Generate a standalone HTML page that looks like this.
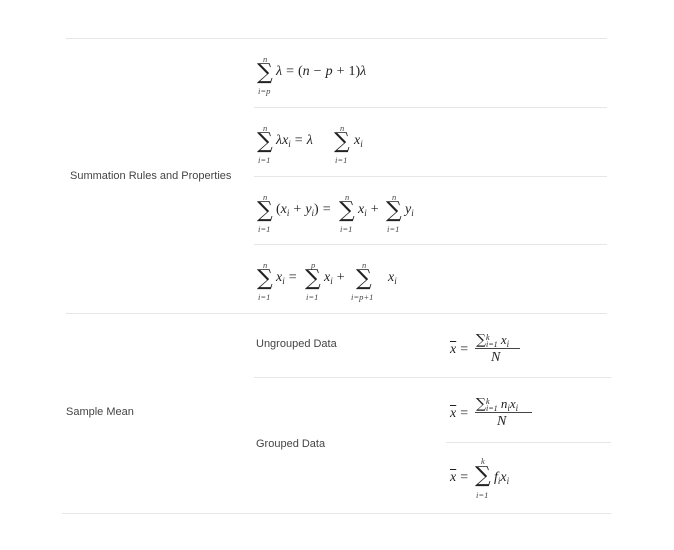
<!DOCTYPE html>
<html><head><meta charset="utf-8"><style>
body{margin:0;width:674px;height:550px;background:#fff;position:relative;overflow:hidden;font-family:"Liberation Sans",sans-serif;}
.l{position:absolute;height:1px;background:#e6e6e6;}
.lab{position:absolute;font-size:11px;color:#444;line-height:12px;white-space:nowrap;}
.m{position:absolute;font-family:"Liberation Serif","DejaVu Serif",serif;font-size:14px;color:#222;line-height:16px;white-space:nowrap;}
.i{font-style:italic;}
.s{position:absolute;font-family:"DejaVu Serif",serif;font-size:22px;color:#222;line-height:22px;}
.sm{position:absolute;font-family:"Liberation Serif",serif;font-size:8.5px;color:#444;line-height:8px;white-space:nowrap;font-style:italic;}
sub{font-size:9px;vertical-align:-3px;}
.ov{text-decoration:overline;}
.o{margin:0 4px;font-style:normal;}
</style></head><body>
<div class="l" style="left:66px;top:38px;width:541px;"></div>
<div class="l" style="left:254px;top:107px;width:353px;"></div>
<div class="l" style="left:254px;top:176px;width:353px;"></div>
<div class="l" style="left:254px;top:244px;width:353px;"></div>
<div class="l" style="left:66px;top:313px;width:541px;"></div>
<div class="l" style="left:254px;top:377px;width:357px;"></div>
<div class="l" style="left:446px;top:442px;width:165px;"></div>
<div class="l" style="left:62px;top:513px;width:549px;"></div>

<div class="lab" style="left:70px;top:170px;">Summation Rules and Properties</div>
<div class="lab" style="left:66px;top:406px;">Sample Mean</div>
<div class="lab" style="left:256px;top:338px;">Ungrouped Data</div>
<div class="lab" style="left:256px;top:438px;">Grouped Data</div>

<!-- Row 1 -->
<div>
<div class="sm" style="left:263px;top:55px;">n</div>
<div class="s" style="left:257px;top:62px;">∑</div>
<div class="sm" style="left:258px;top:87px;">i=p</div>
<div class="m" style="left:276px;top:64px;"><span class="i">λ</span><span class="o">=</span>(<span class="i">n</span><span class="o">−</span><span class="i">p</span><span class="o">+</span>1)<span class="i">λ</span></div>
</div>
<!-- Row 2 -->
<div>
<div class="sm" style="left:263px;top:124px;">n</div>
<div class="s" style="left:257px;top:131px;">∑</div>
<div class="sm" style="left:258px;top:156px;">i=1</div>
<div class="m" style="left:276px;top:133px;"><span class="i">λx<sub>i</sub></span><span class="o">=</span><span class="i">λ</span></div>
<div class="sm" style="left:340px;top:124px;">n</div>
<div class="s" style="left:334px;top:131px;">∑</div>
<div class="sm" style="left:335px;top:156px;">i=1</div>
<div class="m i" style="left:354px;top:133px;">x<sub>i</sub></div>
</div>
<!-- Row 3 -->
<div>
<div class="sm" style="left:263px;top:193px;">n</div>
<div class="s" style="left:257px;top:200px;">∑</div>
<div class="sm" style="left:258px;top:225px;">i=1</div>
<div class="m" style="left:276px;top:202px;">(<span class="i">x<sub>i</sub></span><span class="o">+</span><span class="i">y<sub>i</sub></span>)<span class="o">=</span></div>
<div class="sm" style="left:345px;top:193px;">n</div>
<div class="s" style="left:339px;top:200px;">∑</div>
<div class="sm" style="left:340px;top:225px;">i=1</div>
<div class="m" style="left:358px;top:202px;"><span class="i">x<sub>i</sub></span><span class="o">+</span></div>
<div class="sm" style="left:392px;top:193px;">n</div>
<div class="s" style="left:386px;top:200px;">∑</div>
<div class="sm" style="left:387px;top:225px;">i=1</div>
<div class="m i" style="left:405px;top:202px;">y<sub>i</sub></div>
</div>
<!-- Row 4 -->
<div>
<div class="sm" style="left:263px;top:261px;">n</div>
<div class="s" style="left:257px;top:268px;">∑</div>
<div class="sm" style="left:258px;top:293px;">i=1</div>
<div class="m" style="left:276px;top:270px;"><span class="i">x<sub>i</sub></span><span class="o">=</span></div>
<div class="sm" style="left:311px;top:261px;">p</div>
<div class="s" style="left:305px;top:268px;">∑</div>
<div class="sm" style="left:306px;top:293px;">i=1</div>
<div class="m" style="left:324px;top:270px;"><span class="i">x<sub>i</sub></span><span class="o">+</span></div>
<div class="sm" style="left:362px;top:261px;">n</div>
<div class="s" style="left:356px;top:268px;">∑</div>
<div class="sm" style="left:351px;top:293px;">i=p+1</div>
<div class="m i" style="left:388px;top:270px;">x<sub>i</sub></div>
</div>
<!-- Ungrouped mean -->
<div>
<div class="m" style="left:450px;top:342px;"><span class="i ov">x</span><span class="o">=</span></div>
<div class="m" style="left:476px;top:332px;font-size:13px;"><span style="font-family:'DejaVu Serif',serif;font-size:14px;">∑</span><span style="display:inline-block;vertical-align:middle;line-height:7px;font-size:8px;font-style:italic;">k<br>i=1</span> <span class="i">x<sub>i</sub></span></div>
<div style="position:absolute;left:475px;top:348px;width:45px;height:1px;background:#444;"></div>
<div class="m i" style="left:491px;top:350px;">N</div>
</div>
<!-- Grouped mean 1 -->
<div>
<div class="m" style="left:450px;top:406px;"><span class="i ov">x</span><span class="o">=</span></div>
<div class="m" style="left:476px;top:396px;font-size:13px;"><span style="font-family:'DejaVu Serif',serif;font-size:14px;">∑</span><span style="display:inline-block;vertical-align:middle;line-height:7px;font-size:8px;font-style:italic;">k<br>i=1</span> <span class="i">n<sub>i</sub>x<sub>i</sub></span></div>
<div style="position:absolute;left:475px;top:412px;width:57px;height:1px;background:#444;"></div>
<div class="m i" style="left:497px;top:414px;">N</div>
</div>
<!-- Grouped mean 2 -->
<div>
<div class="m" style="left:450px;top:470px;"><span class="i ov">x</span><span class="o">=</span></div>
<div class="sm" style="left:481px;top:457px;">k</div>
<div class="s" style="left:475px;top:465px;">∑</div>
<div class="sm" style="left:476px;top:491px;">i=1</div>
<div class="m i" style="left:494px;top:470px;">f<sub>i</sub>x<sub>i</sub></div>
</div>
</body></html>
